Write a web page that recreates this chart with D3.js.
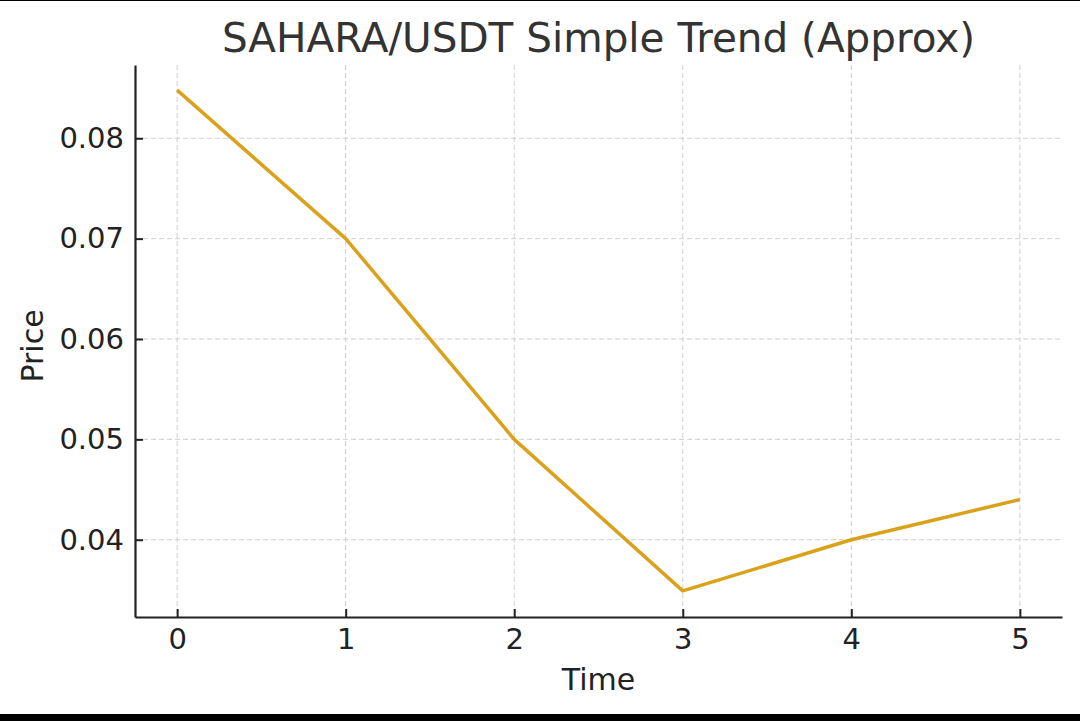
<!DOCTYPE html>
<html>
<head>
<meta charset="utf-8">
<script src="https://cdn.jsdelivr.net/npm/d3@7"></script>
<style>
  html, body { margin: 0; padding: 0; background: #000; }
  #chart { position: absolute; left: 0; top: 1px; width: 1080px; height: 713px; background: #fff; }
  text { font-family: "DejaVu Sans", sans-serif; }
</style>
</head>
<body>
<div id="chart"></div>
<script>
const times = [0, 1, 2, 3, 4, 5];
const prices = [0.0848, 0.070, 0.050, 0.0349, 0.040, 0.044];
const xTicks = [0, 1, 2, 3, 4, 5];
const yTicks = [0.04, 0.05, 0.06, 0.07, 0.08];

const width = 1080, height = 713;
const margin = { top: 64, right: 18, bottom: 97, left: 135 };

const svg = d3.select('#chart').append('svg')
  .attr('width', width)
  .attr('height', height);

const x = d3.scaleLinear()
  .domain([-0.25, 5.25])
  .range([margin.left, width - margin.right]);

const y = d3.scaleLinear()
  .domain([0.0323, 0.0873])
  .range([height - margin.bottom, margin.top]);

// grid
svg.append('g').selectAll('line').data(yTicks).join('line')
  .attr('x1', margin.left).attr('x2', width - margin.right)
  .attr('y1', d => y(d)).attr('y2', d => y(d))
  .attr('stroke', '#cfcfcf').attr('stroke-width', 1)
  .attr('stroke-dasharray', '5,3');

svg.append('g').selectAll('line').data(xTicks).join('line')
  .attr('x1', d => x(d)).attr('x2', d => x(d))
  .attr('y1', margin.top).attr('y2', height - margin.bottom)
  .attr('stroke', '#cfcfcf').attr('stroke-width', 1)
  .attr('stroke-dasharray', '5,3');

// axes, ticks point inward
const xAxis = svg.append('g')
  .attr('transform', `translate(0,${height - margin.bottom})`)
  .call(d3.axisBottom(x).tickValues(xTicks).tickFormat(d3.format('d'))
    .tickSize(-8).tickPadding(11).tickSizeOuter(0));

const yAxis = svg.append('g')
  .attr('transform', `translate(${margin.left},0)`)
  .call(d3.axisLeft(y).tickValues(yTicks).tickFormat(d3.format('.2f'))
    .tickSize(-8).tickPadding(11).tickSizeOuter(0));

[xAxis, yAxis].forEach(a => {
  a.select('.domain').attr('stroke', '#222').attr('stroke-width', 2.2);
  a.selectAll('.tick line').attr('stroke', '#222').attr('stroke-width', 2);
  a.selectAll('.tick text')
    .attr('fill', '#222')
    .style('font-size', '29px')
    .style('font-family', '"DejaVu Sans", sans-serif');
});

// line
const line = d3.line()
  .x((d, i) => x(times[i]))
  .y(d => y(d));

svg.append('path')
  .datum(prices)
  .attr('fill', 'none')
  .attr('stroke', '#daa21a')
  .attr('stroke-width', 3.5)
  .attr('stroke-linejoin', 'round')
  .attr('d', line);

// title and labels
svg.append('text')
  .attr('x', (margin.left + width - margin.right) / 2)
  .attr('y', 51)
  .attr('text-anchor', 'middle')
  .attr('fill', '#333')
  .style('font-size', '40.5px')
  .text('SAHARA/USDT Simple Trend (Approx)');

svg.append('text')
  .attr('x', x(2.5))
  .attr('y', 689)
  .attr('text-anchor', 'middle')
  .attr('fill', '#222')
  .style('font-size', '30px')
  .text('Time');

svg.append('text')
  .attr('transform', `translate(43,345) rotate(-90)`)
  .attr('text-anchor', 'middle')
  .attr('fill', '#222')
  .style('font-size', '30px')
  .text('Price');
</script>
</body>
</html>
